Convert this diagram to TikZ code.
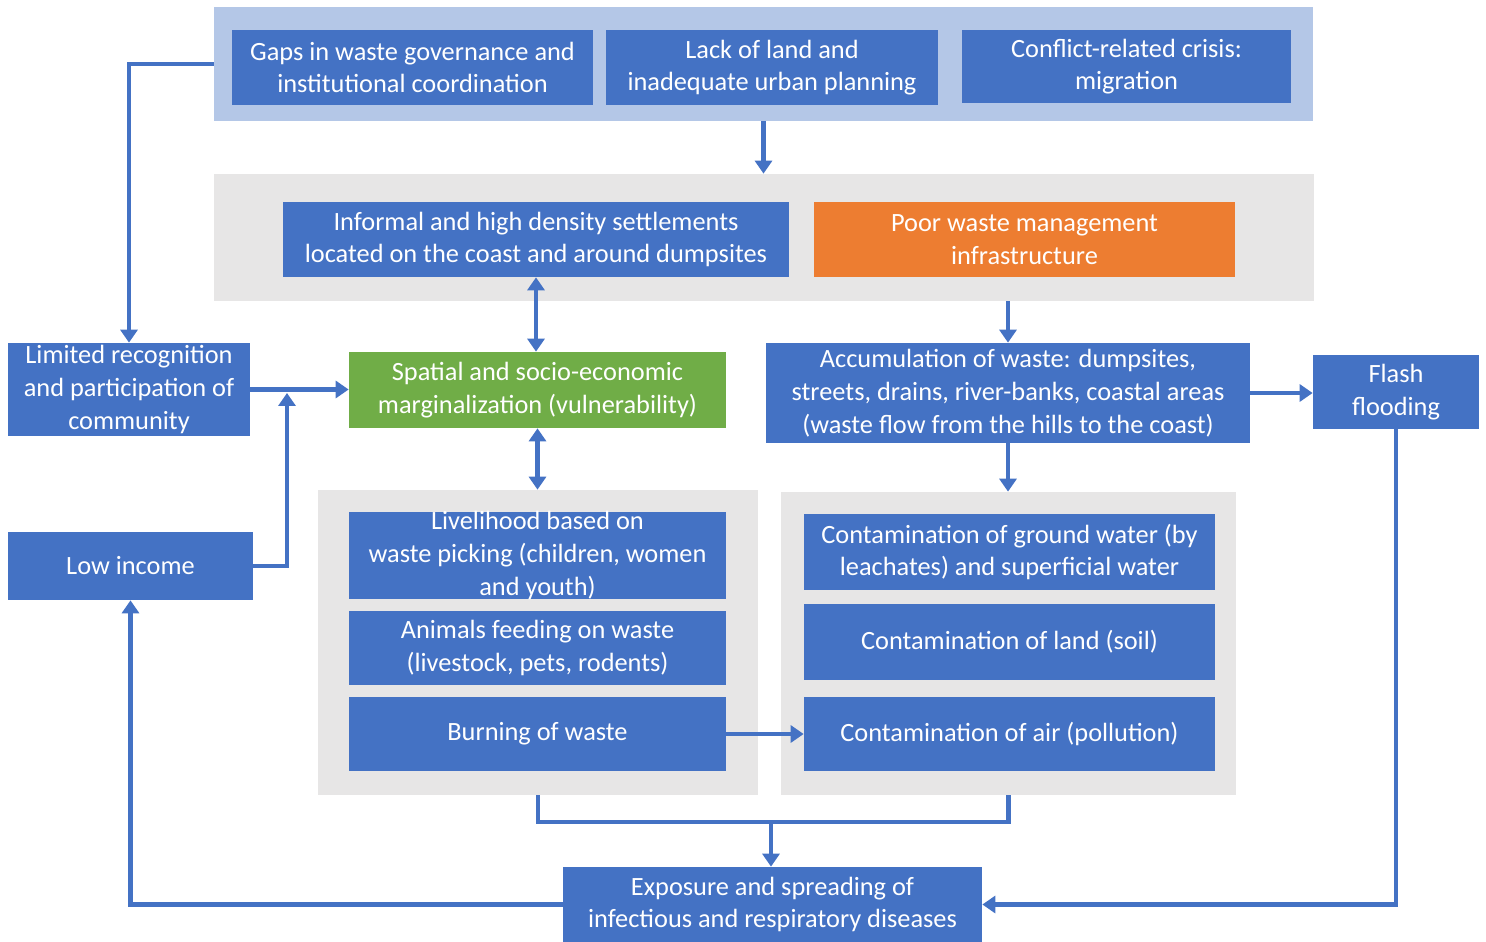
\documentclass[tikz,border=0pt]{standalone}
\usepackage{fontspec}
\setmainfont{Carlito}
\usetikzlibrary{arrows.meta}
\definecolor{mblue}{HTML}{4472C4}
\definecolor{mpanel}{HTML}{B4C7E7}
\definecolor{mgray}{HTML}{E7E6E6}
\definecolor{morange}{HTML}{ED7D31}
\definecolor{mgreen}{HTML}{70AD47}
\tikzset{
  boxat/.style n args={4}{at={({(#1+#3)/2},{(#2+#4)/2})},
    minimum width={(#3-#1)*0.02cm}, minimum height={(#4-#2)*0.02cm}},
  panel/.style={draw=none, inner sep=0pt},
  bluebox/.style={fill=mblue, text=white, align=center, inner sep=0pt,
    font=\fontsize{15}{18.6}\selectfont},
  conn/.style={draw=mblue, line width=2.5pt},
  arr/.style={conn, -{Triangle[length=0.26cm,width=0.34cm]}},
  darr/.style={conn, {Triangle[length=0.26cm,width=0.34cm]}-{Triangle[length=0.26cm,width=0.34cm]}},
}
\begin{document}
\begin{tikzpicture}[x=0.02cm, y=-0.02cm]
\useasboundingbox (0,0) rectangle (1486,942);
% panels
\node[panel, fill=mpanel, boxat={214}{7}{1313}{121}] (topP) {};
\node[panel, fill=mgray, boxat={214}{174}{1314}{301}] (grayA) {};
\node[panel, fill=mgray, boxat={318}{490}{758}{795}] (grayB) {};
\node[panel, fill=mgray, boxat={781}{492}{1236}{795}] (grayC) {};
% top boxes
\node[bluebox, boxat={232}{30}{593}{105}] (gaps) {Gaps in waste governance and\\institutional coordination};
\node[bluebox, boxat={606}{30}{938}{105}] (land) {Lack of land and\\inadequate urban planning};
\node[bluebox, boxat={962}{30}{1291}{103}] (conflict) {Conflict-related crisis:\\migration};
% second row
\node[bluebox, boxat={283}{202}{789}{277}] (informal) {Informal and high density settlements\\located on the coast and around dumpsites};
\node[bluebox, fill=morange, boxat={814}{202}{1235}{277}] (poor) {Poor waste management\\infrastructure};
% middle
\node[bluebox, boxat={8}{343}{250}{436}] (limited) {Limited recognition\\and participation of\\community};
\node[bluebox, fill=mgreen, boxat={349}{352}{726}{428}] (green) {Spatial and socio-economic\\marginalization (vulnerability)};
\node[bluebox, boxat={766}{343}{1250}{443}] (accum) {Accumulation of waste: dumpsites,\\streets, drains, river-banks, coastal areas\\(waste flow from the hills to the coast)};
\node[bluebox, boxat={1313}{355}{1479}{429}] (flash) {Flash\\flooding};
\node[bluebox, boxat={8}{532}{253}{600}] (low) {Low income};
% left lower group
\node[bluebox, boxat={349}{512}{726}{599}] (livelihood) {Livelihood based on\\waste picking (children, women\\and youth)};
\node[bluebox, boxat={349}{611}{726}{685}] (animals) {Animals feeding on waste\\(livestock, pets, rodents)};
\node[bluebox, boxat={349}{697}{726}{771}] (burning) {Burning of waste};
% right lower group
\node[bluebox, boxat={804}{514}{1215}{590}] (ground) {Contamination of ground water (by\\leachates) and superficial water};
\node[bluebox, boxat={804}{604}{1215}{680}] (soil) {Contamination of land (soil)};
\node[bluebox, boxat={804}{697}{1215}{771}] (air) {Contamination of air (pollution)};
% bottom
\node[bluebox, boxat={563}{867}{982}{942}] (exposure) {Exposure and spreading of\\infectious and respiratory diseases};
% connectors
\draw[arr] (topP.west) -| (limited.north);
\draw[arr] (topP.south) -- (topP.south |- grayA.north);
\draw[darr] (informal.south) -- (informal.south |- green.north);
\draw[darr] (green.south) -- (green.south |- grayB.north);
\draw[arr] (limited.east) -- (limited.east -| green.west);
\coordinate (jl) at (287,393);
\draw[arr] (low.east) -| (jl);
\draw[arr] (grayA.south -| accum.north) -- (accum.north);
\draw[arr] (accum.east) -- (accum.east -| flash.west);
\draw[arr] (accum.south) -- (accum.south |- grayC.north);
\draw[arr] (burning.east) -- (air.west);
\coordinate (jb) at (771,822);
\draw[conn] (grayB.south) |- (jb) -| (grayC.south);
\draw[arr] (jb) -- (jb |- exposure.north);
\draw[arr] (exposure.west) -| (low.south);
\draw[arr] (flash.south) |- (exposure.east);
\end{tikzpicture}
\end{document}
